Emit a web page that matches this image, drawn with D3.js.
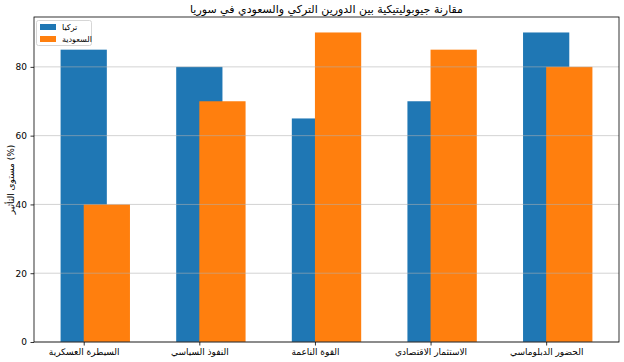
<!DOCTYPE html>
<html><head><meta charset="utf-8">
<script src="https://cdn.jsdelivr.net/npm/d3@7"></script>
<style>body{margin:0;background:#fff}svg{display:block}text{font-family:"DejaVu Sans",sans-serif}</style>
</head><body><svg id="c" width="624" height="362"></svg>
<script>
const categories = ["السيطرة العسكرية","النفوذ السياسي","القوة الناعمة","الاستثمار الاقتصادي","الحضور الدبلوماسي"];
const turkeyValues = [85,80,65,70,90];
const saudiValues = [40,70,90,85,80];
const seriesNames = ["تركيا","السعودية"];
const seriesColors = ["#1f77b4","#ff7f0e"];
const yTicks = [0,20,40,60,80];
const title = "مقارنة جيوبوليتيكية بين الدورين التركي والسعودي في سوريا";
const yLabel = "مستوى التأثير (%)";

const svg = d3.select("#c");
const L=34,R=619,T=17,B=342;
const barW=0.4;
const x = d3.scaleLinear().domain([-0.2-0.23, 4.4+0.23]).range([L,R]);
const y = d3.scaleLinear().domain([0,94.5]).range([B,T]);

const series=[turkeyValues,saudiValues];
const offsets=[0,0.2];
series.forEach((vals,si)=>{
  svg.append("g").selectAll("rect").data(vals).join("rect")
    .attr("x",(d,i)=>x(i+offsets[si]-barW/2))
    .attr("width",(d,i)=>x(i+offsets[si]+barW/2)-x(i+offsets[si]-barW/2))
    .attr("y",d=>y(d)).attr("height",d=>y(0)-y(d))
    .attr("fill",seriesColors[si]);
});
// grid
svg.append("g").selectAll("line").data(yTicks).join("line")
  .attr("x1",L).attr("x2",R).attr("y1",d=>y(d)).attr("y2",d=>y(d))
  .attr("stroke","#b0b0b0").attr("stroke-opacity",0.7).attr("stroke-width",0.8);

const yAxis = svg.append("g").attr("transform",`translate(${L},0)`)
  .call(d3.axisLeft(y).tickValues(yTicks).tickSize(3.5).tickPadding(3.5));
const xAxis = svg.append("g").attr("transform",`translate(0,${B})`)
  .call(d3.axisBottom(x).tickValues(d3.range(categories.length)).tickFormat(i=>categories[i]).tickSize(3.5).tickPadding(3.5));
[yAxis,xAxis].forEach(a=>{a.select(".domain").remove();a.selectAll("text").attr("font-size",9).attr("fill","#000");a.selectAll("line").attr("stroke","#000").attr("stroke-width",0.8);});

svg.append("rect").attr("x",L).attr("y",T).attr("width",R-L).attr("height",B-T)
  .attr("fill","none").attr("stroke","#000").attr("stroke-width",0.8);

svg.append("text").attr("x",(L+R)/2).attr("y",13).attr("text-anchor","middle").attr("font-size",11).text(title);
svg.append("text").attr("transform",`translate(14,${(T+B)/2}) rotate(-90)`).attr("text-anchor","middle").attr("font-size",9).text(yLabel);

const lg = svg.append("g");
lg.append("rect").attr("x",36.5).attr("y",20.5).attr("width",55).attr("height",25).attr("rx",2)
  .attr("fill","#fff").attr("fill-opacity",0.8).attr("stroke","#ccc").attr("stroke-width",0.8);
seriesNames.forEach((n,i)=>{
  lg.append("rect").attr("x",40).attr("y",24+i*12).attr("width",16).attr("height",6).attr("fill",seriesColors[i]);
  lg.append("text").attr("x",62).attr("y",30+i*12).attr("font-size",8).text(n);
});
</script></body></html>
